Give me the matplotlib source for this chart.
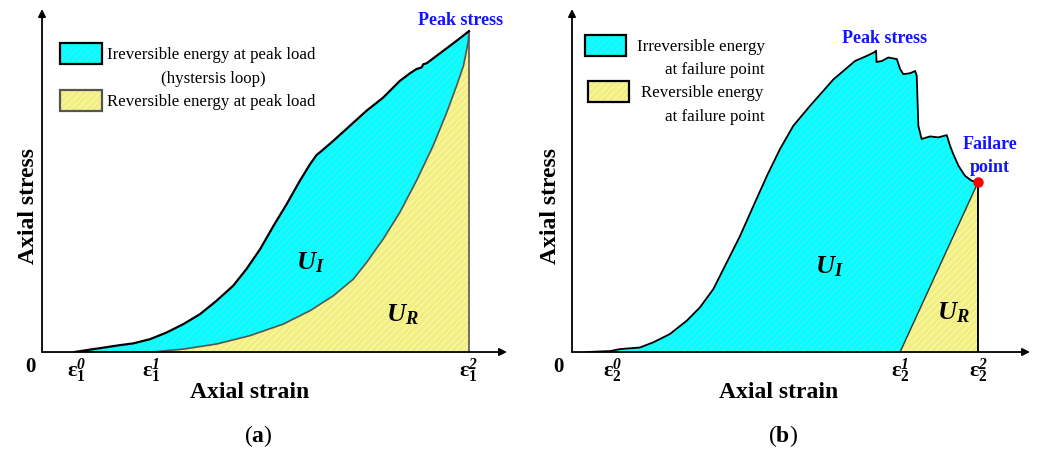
import matplotlib.pyplot as plt
from matplotlib.patches import Rectangle

plt.rcParams.update({
    "font.family": "Liberation Serif",
    "mathtext.fontset": "custom",
    "mathtext.rm": "Liberation Serif:bold",
    "mathtext.it": "Liberation Serif:italic:bold",
    "mathtext.sf": "Liberation Serif:italic:bold",
    "hatch.linewidth": 0.6,
})

# ---- data (normalised strain / stress) ----
# (a) loading branch up to peak stress
load_a_strain = [0.077, 0.105, 0.136, 0.175, 0.214, 0.253, 0.292, 0.331, 0.370, 0.409,
                 0.448, 0.479, 0.511, 0.542, 0.573, 0.604, 0.628, 0.643, 0.655, 0.682,
                 0.721, 0.760, 0.799, 0.838, 0.862, 0.877, 0.889, 0.893, 0.901, 0.940,
                 0.971, 1.000]
load_a_stress = [0.000, 0.006, 0.012, 0.020, 0.027, 0.040, 0.061, 0.087, 0.118, 0.160,
                 0.207, 0.259, 0.321, 0.393, 0.461, 0.534, 0.586, 0.614, 0.627, 0.658,
                 0.705, 0.752, 0.793, 0.845, 0.869, 0.882, 0.887, 0.897, 0.900, 0.939,
                 0.970, 1.000]
# (a) unloading branch from peak back to the strain axis
unload_a_strain = [0.257, 0.331, 0.409, 0.487, 0.565, 0.628, 0.682, 0.729, 0.760, 0.799,
                   0.838, 0.877, 0.916, 0.948, 0.971, 0.987, 0.998, 1.000]
unload_a_stress = [0.000, 0.009, 0.025, 0.051, 0.087, 0.129, 0.175, 0.227, 0.279, 0.352,
                   0.435, 0.534, 0.643, 0.747, 0.830, 0.892, 0.965, 1.000]
eps_a = [0.08, 0.257, 1.0]
eps_a_labels = [r"$\mathrm{ε}_1^{\mathsf{0}}$", r"$\mathrm{ε}_1^{\mathsf{1}}$",
                r"$\mathrm{ε}_1^{\mathsf{2}}$"]

# (b) full curve up to the failure point
load_b_strain = [0.036, 0.094, 0.118, 0.167, 0.200, 0.241, 0.283, 0.315, 0.348, 0.381,
                 0.414, 0.447, 0.480, 0.512, 0.545, 0.586, 0.644, 0.697, 0.726, 0.744,
                 0.749, 0.750, 0.763, 0.779, 0.800, 0.808, 0.816, 0.833, 0.845, 0.849,
                 0.853, 0.861, 0.882, 0.902, 0.923, 0.931, 0.939, 0.952, 0.968, 0.984,
                 1.000]
load_b_stress = [0.000, 0.003, 0.009, 0.014, 0.030, 0.056, 0.098, 0.139, 0.196, 0.279,
                 0.362, 0.456, 0.549, 0.632, 0.705, 0.767, 0.850, 0.907, 0.923, 0.934,
                 0.939, 0.904, 0.907, 0.918, 0.913, 0.882, 0.866, 0.869, 0.876, 0.861,
                 0.705, 0.664, 0.672, 0.669, 0.676, 0.643, 0.617, 0.580, 0.549, 0.534,
                 0.529]
eps_b = [0.10, 0.808, 1.0]
eps_b_labels = [r"$\mathrm{ε}_2^{\mathsf{0}}$", r"$\mathrm{ε}_2^{\mathsf{1}}$",
                r"$\mathrm{ε}_2^{\mathsf{2}}$"]

CYAN, CYAN_HATCH = "#00ffff", "#5ee4f2"
YELLOW, YELLOW_HATCH = "#f2ee80", "#fdfcc2"
BLUE = "#1414ff"
YMAX = 1.069

fig = plt.figure(figsize=(10.4, 4.52), dpi=100)
ax_a = fig.add_axes([0.0404, 0.219, 0.4471, 0.7588])
ax_b = fig.add_axes([0.55, 0.219, 0.4404, 0.7588])


def setup(ax, xmax):
    ax.set_xlim(0, xmax)
    ax.set_ylim(0, YMAX)
    ax.axis("off")
    arrow = dict(arrowstyle="-|>", color="k", lw=1.3, mutation_scale=11,
                 shrinkA=0, shrinkB=0)
    ax.annotate("", xy=(xmax, 0), xytext=(0, 0), arrowprops=arrow,
                annotation_clip=False, zorder=6)
    ax.annotate("", xy=(0, YMAX), xytext=(0, 0), arrowprops=arrow,
                annotation_clip=False, zorder=6)


def hatched(ax, xs, ys, face, hatch_color, z=1):
    ax.fill(xs, ys, facecolor=face, edgecolor=hatch_color, linewidth=0,
            hatch="/////", zorder=z)


def legend_box(ax, x, y, face, hatch_color, edge):
    ax.add_patch(Rectangle((x, y), 0.09, 0.06, transform=ax.transAxes,
                           facecolor=face, edgecolor=hatch_color, lw=0,
                           hatch="/////", clip_on=False))
    ax.add_patch(Rectangle((x, y), 0.09, 0.06, transform=ax.transAxes,
                           facecolor="none", edgecolor=edge, lw=1.6, clip_on=False))


def strain_labels(ax, values, labels, origin_x):
    ax.text(origin_x, -0.044, "0", ha="center", va="center", fontsize=15,
            fontweight="bold")
    for v, lab in zip(values, labels):
        ax.text(v, -0.055, lab, ha="center", va="center", fontsize=16)


# ---------------- (a) ----------------
setup(ax_a, 1.089)
peak_a = (load_a_strain[-1], load_a_stress[-1])
hatched(ax_a, load_a_strain + unload_a_strain[::-1],
        load_a_stress + unload_a_stress[::-1], CYAN, CYAN_HATCH)
hatched(ax_a, unload_a_strain + [peak_a[0]], unload_a_stress + [0], YELLOW, YELLOW_HATCH)
ax_a.plot(unload_a_strain, unload_a_stress, color="#555555", lw=1.2, zorder=3)
ax_a.plot([peak_a[0], peak_a[0]], [0, peak_a[1]], color="#555555", lw=1.2, zorder=3)
ax_a.plot(load_a_strain, load_a_stress, color="k", lw=1.6, zorder=4)
ax_a.plot([load_a_strain[0], unload_a_strain[0]], [0, 0], color="k", lw=2.2, zorder=7)
ax_a.annotate("Peak stress", xy=peak_a, xytext=(-5.8, 8.6), textcoords="offset points",
              ha="center", va="center", color=BLUE, fontsize=13, fontweight="bold")
ax_a.text(0.628, 0.280, r"$U_I$", fontsize=19, ha="center", va="center")
ax_a.text(0.845, 0.118, r"$U_R$", fontsize=19, ha="center", va="center")
strain_labels(ax_a, eps_a, eps_a_labels, -0.028)

legend_box(ax_a, 0.039, 0.840, CYAN, CYAN_HATCH, "k")
legend_box(ax_a, 0.039, 0.703, YELLOW, YELLOW_HATCH, "#555555")
ax_a.text(0.140, 0.868, "Ireversible energy at peak load", transform=ax_a.transAxes,
          ha="left", va="center", fontsize=12.2)
ax_a.text(0.368, 0.798, "(hystersis loop)", transform=ax_a.transAxes,
          ha="center", va="center", fontsize=12.2)
ax_a.text(0.140, 0.733, "Reversible energy at peak load", transform=ax_a.transAxes,
          ha="left", va="center", fontsize=12.2)

ax_a.text(0.447, -0.114, "Axial strain", transform=ax_a.transAxes, ha="center",
          va="center", fontsize=17, fontweight="bold")
ax_a.text(-0.030, 0.429, "Axial stress", transform=ax_a.transAxes, ha="center",
          va="center", rotation=90, fontsize=17, fontweight="bold")
ax_a.text(0.465, -0.243, r"($\mathrm{a}$)", transform=ax_a.transAxes, ha="center",
          va="center", fontsize=17)

# ---------------- (b) ----------------
setup(ax_b, 1.128)
fail_b = (load_b_strain[-1], load_b_stress[-1])
peak_i = load_b_stress.index(max(load_b_stress))
peak_b = (load_b_strain[peak_i], load_b_stress[peak_i])
hatched(ax_b, load_b_strain + [fail_b[0]], load_b_stress + [0], CYAN, CYAN_HATCH)
hatched(ax_b, [eps_b[1], fail_b[0], fail_b[0]], [0, fail_b[1], 0], YELLOW, YELLOW_HATCH, z=2)
ax_b.plot([eps_b[1], fail_b[0]], [0, fail_b[1]], color="#333333", lw=1.0, zorder=3)
ax_b.plot([fail_b[0], fail_b[0]], [0, fail_b[1]], color="k", lw=1.4, zorder=3)
ax_b.plot(load_b_strain, load_b_stress, color="k", lw=1.3, zorder=4)
ax_b.plot(*fail_b, "o", color="red", ms=6.5, zorder=8)
ax_b.annotate("Peak stress", xy=peak_b, xytext=(5.8, 9.4), textcoords="offset points",
              ha="center", va="center", color=BLUE, fontsize=13, fontweight="bold")
ax_b.annotate("Failare\npoint", xy=fail_b, xytext=(8.6, 19.4), textcoords="offset points",
              ha="center", va="center", multialignment="center", color=BLUE,
              fontsize=13, fontweight="bold", linespacing=1.45)
ax_b.text(0.635, 0.268, r"$U_I$", fontsize=19, ha="center", va="center")
ax_b.text(0.938, 0.125, r"$U_R$", fontsize=19, ha="center", va="center")
strain_labels(ax_b, eps_b, eps_b_labels, -0.034)

legend_box(ax_b, 0.028, 0.863, CYAN, CYAN_HATCH, "k")
legend_box(ax_b, 0.035, 0.729, YELLOW, YELLOW_HATCH, "k")
ax_b.text(0.142, 0.893, "Irreversible energy", transform=ax_b.transAxes,
          ha="left", va="center", fontsize=12.2)
ax_b.text(0.312, 0.826, "at failure point", transform=ax_b.transAxes,
          ha="center", va="center", fontsize=12.2)
ax_b.text(0.151, 0.759, "Reversible energy", transform=ax_b.transAxes,
          ha="left", va="center", fontsize=12.2)
ax_b.text(0.312, 0.689, "at failure point", transform=ax_b.transAxes,
          ha="center", va="center", fontsize=12.2)

ax_b.text(0.452, -0.114, "Axial strain", transform=ax_b.transAxes, ha="center",
          va="center", fontsize=17, fontweight="bold")
ax_b.text(-0.048, 0.429, "Axial stress", transform=ax_b.transAxes, ha="center",
          va="center", rotation=90, fontsize=17, fontweight="bold")
ax_b.text(0.461, -0.243, r"($\mathrm{b}$)", transform=ax_b.transAxes, ha="center",
          va="center", fontsize=17)

fig.savefig("out.png", dpi=100, facecolor="white")
